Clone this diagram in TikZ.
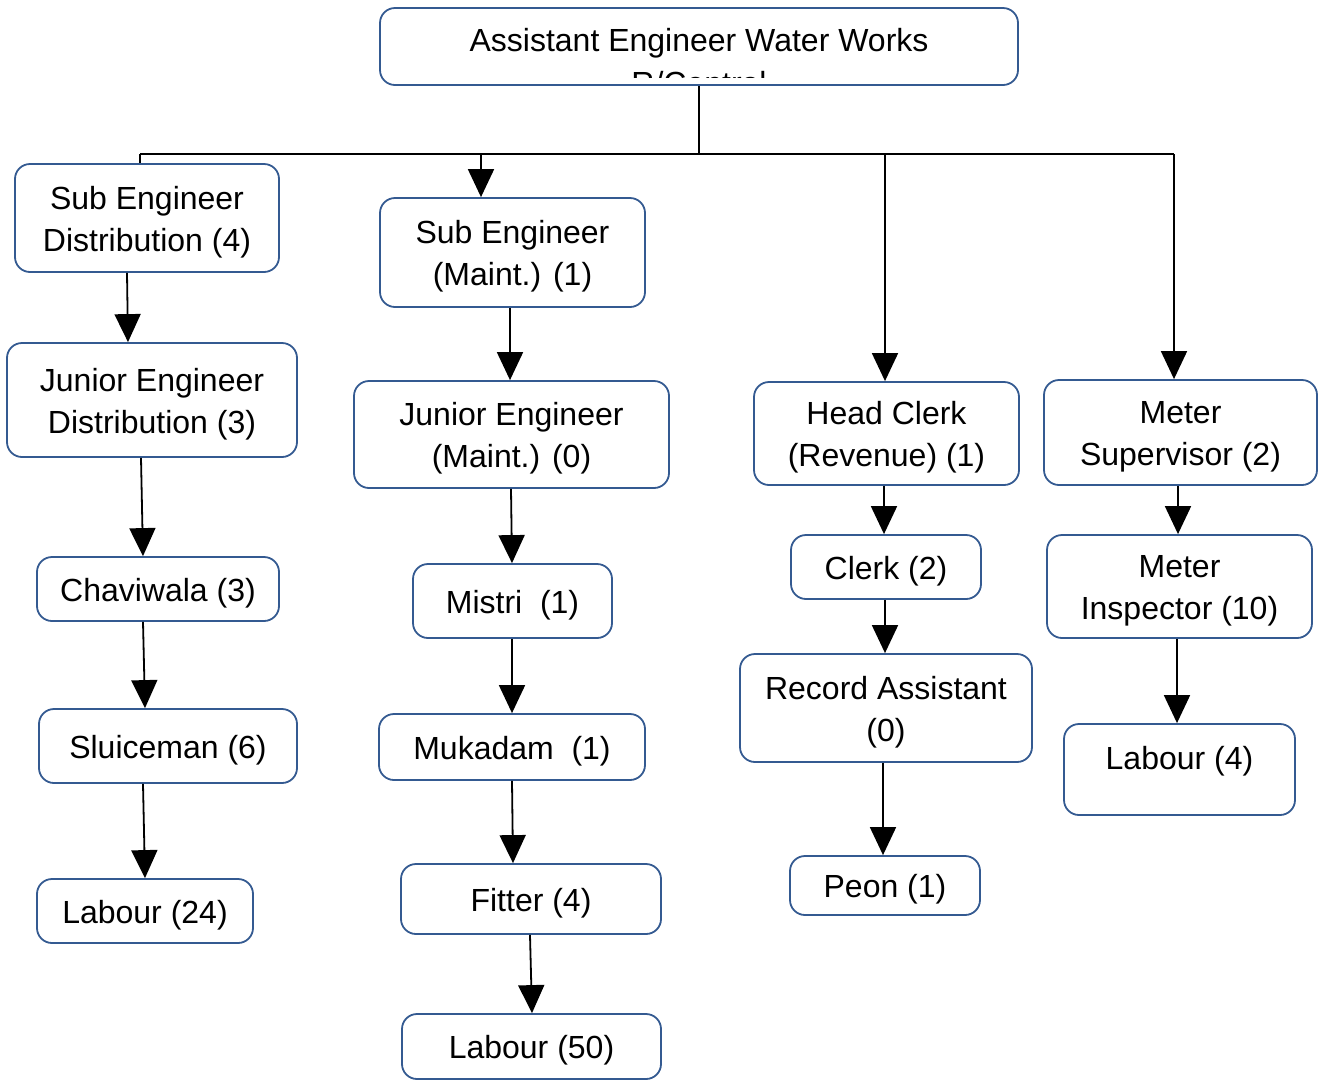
\documentclass[tikz,border=0pt]{standalone}
\usepackage{fontspec}
\setmainfont{Liberation Sans}
\usetikzlibrary{arrows.meta}
\definecolor{bord}{RGB}{52,90,145}
\newcommand\bx[6]{\node[box, minimum width=#4pt, minimum height=#5pt] (#1) at (#2,#3) {};
  \node[txt] (#1t) at ([yshift=-4pt]#1.center) {#6};}
\newcommand\conn[4]{\draw[arr] ([xshift=#2pt]#1.south) -- ([xshift=#4pt]#3.north);}
\begin{document}
\begin{tikzpicture}[x=1pt,y=-1pt,
  box/.style={draw=bord, line width=1.8pt, rounded corners=15pt, inner sep=0pt},
  txt/.style={font=\fontsize{32}{42}\selectfont, inner sep=0pt, align=center},
  arr/.style={line width=1.8pt, -{Triangle[width=26pt,length=28pt]}},
  ln/.style={line width=1.8pt}]
\useasboundingbox (0,0) rectangle (1320,1080);
% top box
\node[box, minimum width=638pt, minimum height=77pt] (top) at (699,46.5) {};
\node[txt, anchor=base] (topt) at (699,51) {Assistant Engineer Water Works};
\begin{scope}
  \clip (382,10) rectangle (1016,77);
  \node[txt, anchor=base] (topt2) at (699,94) {R/Central};
\end{scope}
% column 1
\bx{sed}{147}{218}{264}{108}{Sub Engineer\\Distribution (4)}
\bx{jed}{152}{400}{290}{114}{Junior Engineer\\Distribution (3)}
\bx{chav}{158}{589}{242}{64}{Chaviwala (3)}
\bx{sluice}{168}{746}{258}{74}{Sluiceman (6)}
\bx{labA}{145}{911}{216}{64}{Labour (24)}
% column 2
\bx{sem}{512.5}{252.5}{265}{109}{Sub Engineer\\(Maint.) (1)}
\bx{jem}{511.5}{434.5}{315}{107}{Junior Engineer\\(Maint.) (0)}
\bx{mistri}{512.5}{601}{199}{74}{Mistri\ \ (1)}
\bx{muk}{512}{747}{266}{66}{Mukadam\ \ (1)}
\bx{fitter}{531}{899}{260}{70}{Fitter (4)}
\bx{labB}{531.5}{1046.5}{259}{65}{Labour (50)}
% column 3
\bx{hc}{886.5}{433.5}{265}{103}{Head Clerk\\(Revenue) (1)}
\bx{clerk}{886}{567}{190}{64}{Clerk (2)}
\bx{rec}{886}{708}{292}{108}{Record Assistant\\(0)}
\bx{peon}{885}{885.5}{190}{59}{Peon (1)}
% column 4
\bx{ms}{1180.5}{432.5}{273}{105}{Meter\\Supervisor (2)}
\bx{mi}{1179.5}{586.5}{265}{103}{Meter\\Inspector (10)}
\bx{labC}{1179.5}{769.5}{231}{91}{Labour (4)\rule[-31pt]{0pt}{31pt}}
% bus
\coordinate (busL) at (140,154);
\coordinate (busR) at (1174,154);
\coordinate (d2) at ([xshift=-31.5pt]sem.north);
\coordinate (d3) at ([xshift=-1.5pt]hc.north);
\draw[ln] (top.south) -- (top.south |- busL);
\draw[ln, line width=2.2pt] (busL) -- (busR);
\draw[ln] (busL) -- (busL |- sed.north);
\draw[arr] (d2 |- busL) -- (d2);
\draw[arr] (d3 |- busL) -- (d3);
\draw[arr] (busR) -- (busR |- ms.north);
% column connectors
\conn{sed}{-20}{jed}{-24}
\conn{jed}{-11}{chav}{-15}
\conn{chav}{-15}{sluice}{-23}
\conn{sluice}{-25}{labA}{0}
\conn{sem}{-2.5}{jem}{-1.5}
\conn{jem}{-0.5}{mistri}{-0.5}
\conn{mistri}{-0.5}{muk}{0}
\conn{muk}{0}{fitter}{-18}
\conn{fitter}{-1}{labB}{0.5}
\conn{hc}{-2.5}{clerk}{-2}
\conn{clerk}{-1}{rec}{-1}
\conn{rec}{-3}{peon}{-2}
\conn{ms}{-2.5}{mi}{-1.5}
\conn{mi}{-2.5}{labC}{-2.5}
\end{tikzpicture}
\end{document}
